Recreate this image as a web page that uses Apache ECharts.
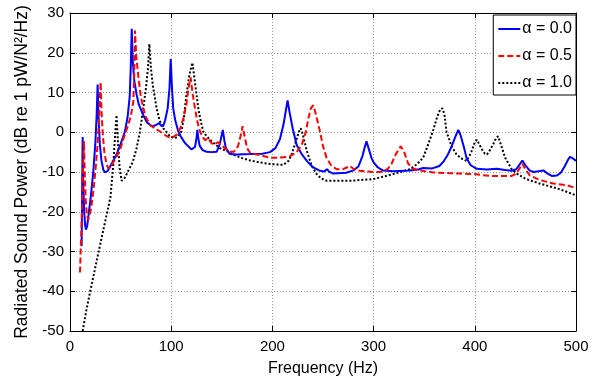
<!DOCTYPE html>
<html>
<head>
<meta charset="utf-8">
<script src="https://cdn.jsdelivr.net/npm/echarts@6/dist/echarts.min.js"></script>
<style>
html,body{margin:0;padding:0;background:#fff;}
#chart{width:601px;height:382px;}
</style>
</head>
<body>
<div id="chart"></div>
<script>
// Frequency (Hz), radiated sound power (dB) pairs per series
const alpha00 = [[11.5,-28.7],[12,-15],[12.5,-1.2],[13,-12],[14,-20],[15,-23.5],[15.8,-24.5],[17,-23.5],[18.5,-20.5],[20.5,-16.3],[23,-10],[25,-3],[26.3,4],[27.3,12],[28.3,3],[29.5,-3],[31,-7],[33,-9.5],[34.6,-10.1],[37,-9.8],[41,-8],[46,-5.6],[50,-3],[54.3,0.2],[57,4],[59,9],[60,16],[61,26],[62,18],[63.5,13],[65.8,9.5],[68,7],[72.4,4.3],[76,2.5],[80.7,1.5],[84,1.7],[88,2.3],[90,1.7],[92,1.5],[94,3],[96.5,6],[98.3,11],[99.5,18.4],[100.8,11],[102,6],[104,3],[107,0.2],[110,-1.3],[113.6,-2.7],[120,-4.3],[123.5,-3.7],[125,-1.5],[125.8,0.6],[126.8,-1.5],[128,-3.3],[131,-4.5],[135,-4.9],[140,-5],[145,-4.9],[148,-3],[151,0.6],[152.5,-2],[154,-4],[158,-5.5],[165,-5.6],[178,-5.5],[190,-5.4],[197.6,-5],[203,-4],[207.5,-1.7],[211,2],[213,5],[215,8],[217,5],[220,1],[224,-3.2],[229,-5.5],[234,-7.2],[240,-8.8],[247,-9.7],[251,-9.9],[254,-9.3],[256,-9.9],[260,-10.4],[273,-10.2],[280,-9.6],[285,-8.6],[289,-6],[291,-4],[293,-2.3],[295,-4],[298,-6.5],[300,-7.6],[304,-8.8],[309,-9.6],[320,-9.8],[336,-9.6],[345,-9.3],[349,-9],[358,-9.1],[365,-8.5],[369,-7.4],[373,-5.8],[377,-3.6],[381,-1],[383.7,0.6],[386,-0.8],[389,-3.5],[392,-6.6],[396,-8.3],[402,-9.2],[412,-9.4],[421.6,-9.2],[430,-9.5],[436.5,-9.7],[441,-9.3],[444,-8.2],[447,-7.1],[450,-8.3],[454,-9.6],[458,-10],[463,-9.8],[467.7,-9.6],[472,-10.4],[476,-11],[481,-10.9],[485,-10.2],[489,-8.5],[492,-7],[494,-6.2],[497,-6.6],[500,-7.2]];

const alpha05 = [[9.9,-35.3],[10.8,-28],[11.8,-20],[12.8,-10],[13.8,-2.2],[14.5,-10],[15.5,-17],[16.8,-21],[18.1,-22],[19.5,-21.5],[21,-19],[23,-15],[25,-10],[27,-4],[28.5,2],[29.5,8],[30.3,12.6],[31.2,5],[32.5,-1],[34,-5],[36,-8],[37.9,-9.1],[40,-8.8],[44,-7],[49.4,-4.5],[53,-1.5],[57.6,1.9],[60,4],[62.5,7.5],[63.5,15],[64.2,25.6],[65.5,19],[67.5,14.2],[70,9],[72.4,6],[75,3.8],[79,1.9],[84,0.9],[89,0.2],[94,-0.7],[98.8,-1.4],[102,-1.2],[105.4,-0.6],[109,1],[112,3.5],[115,7],[117,11],[119.2,13.8],[121,10],[123.5,6],[126,2.5],[128.5,0.2],[131,-1.2],[133.5,-2],[136.7,-1.5],[139,-2.5],[141.6,-3.1],[144,-2.8],[146.5,-2.5],[150,-3.3],[153,-4],[158,-4.9],[162,-4.9],[166,-3.5],[168.5,-1],[170.6,1.5],[172.5,-1],[175,-4],[178,-5.2],[188,-5.8],[197.6,-6.4],[207,-6.4],[217,-6.1],[224,-5],[229,-3.2],[233,0],[235.5,3.5],[238,6],[240.4,6.8],[243,4.5],[247,0.2],[250,-3.5],[253.6,-6.5],[258,-8.3],[263.5,-9.3],[270,-9.3],[274,-8.8],[276.7,-8.5],[280,-9.2],[286.6,-9.7],[300,-10],[309.6,-9.9],[314,-9.2],[318,-7.8],[322,-5.5],[326.8,-3.5],[330,-4.8],[334,-7.8],[338,-9],[342.6,-9.5],[359,-10.1],[375,-10.3],[398.7,-10.5],[415,-11],[436.5,-11],[441,-10.4],[444.5,-9],[447,-7.9],[450,-9.3],[454.5,-10.9],[464,-12],[477.6,-12.9],[490.8,-13.3],[500,-14.1]];

const alpha10 = [[12.5,-50],[16,-45],[20,-40],[25,-34],[30,-28],[36,-21],[40,-16.3],[42.8,-8],[44.5,-1],[46,4.3],[47.5,-3],[49,-9],[51,-12.2],[54,-11.5],[58,-9.5],[62,-7.5],[65.8,-4],[69,0],[72.4,6],[75,11],[77,16],[78.4,22.2],[80,16],[82,11.5],[85.6,6],[88.5,3],[92.2,1],[98.8,-1],[103.7,-1.5],[107,-1],[110,0.2],[112.5,3.5],[115,9.3],[118,14.5],[121,17.5],[123.5,12.5],[126.8,6],[129,3],[131.7,0.2],[135,-1],[140,-2.3],[148,-4],[158,-5.1],[161,-5.6],[170,-6.5],[178,-7.1],[188,-7.6],[197.6,-8],[210.8,-8.2],[216,-7.2],[219,-5.5],[223,-2.5],[226,0],[228,1],[230,-0.5],[234,-4.7],[239,-8.5],[243.7,-10.5],[248,-11.6],[253.6,-12.2],[276.7,-12.2],[299.7,-11.8],[319.5,-10.5],[336,-9.3],[343,-8],[349,-6.4],[354,-3],[359,0.6],[363,4],[366,5.8],[368,6],[370,4.5],[372,0.2],[377,-3.5],[382,-5.6],[388,-6.8],[392,-7.2],[395,-5.8],[397,-4.7],[400,-2.5],[402,-1.9],[404,-2.8],[407,-4.3],[410,-5.4],[412,-5.6],[415,-4.5],[418,-3.1],[421,-1.5],[423,-1],[425,-2.5],[430,-6.4],[436.5,-9.3],[442,-10.5],[451,-11.8],[464,-12.9],[481,-14.1],[490,-14.9],[499,-15.8]];

const seriesNames = ['α = 0.0', 'α = 0.5', 'α = 1.0'];
const xTitle = 'Frequency (Hz)';
const yTitle = 'Radiated Sound Power (dB re 1 pW/N²/Hz)';
const xMin = 0, xMax = 500, xStep = 100;
const yMin = -50, yMax = 30, yStep = 10;

const FONT = "'Liberation Sans', Arial, sans-serif";
const chart = echarts.init(document.getElementById('chart'), null, {renderer: 'canvas'});

const gridLine = {show: true, lineStyle: {color: '#9a9a9a', type: [1, 2], width: 1}};
const frameTicks = {show: true, inside: true, length: 5, lineStyle: {color: '#000', width: 1}};
const frameLine = {show: true, onZero: false, lineStyle: {color: '#000', width: 1}};

chart.setOption({
  animation: false,
  backgroundColor: '#fff',
  grid: {left: 70, right: 25, top: 13, bottom: 47, containLabel: false},
  legend: {
    right: 25, top: 15,
    orient: 'vertical',
    backgroundColor: '#fff',
    borderColor: '#000', borderWidth: 1, borderRadius: 0,
    padding: [6, 4, 4, 4],
    itemWidth: 22, itemHeight: 14, itemGap: 11,
    itemStyle: {opacity: 0, borderWidth: 0},
    textStyle: {fontFamily: FONT, fontSize: 16, color: '#000', padding: [0, 0, 0, -3]},
    data: seriesNames.map(n => ({name: n}))
  },
  xAxis: [{
    type: 'value', min: xMin, max: xMax, interval: xStep,
    position: 'bottom',
    name: xTitle, nameLocation: 'middle', nameGap: 30,
    nameTextStyle: {fontFamily: FONT, fontSize: 16, color: '#000'},
    axisLine: frameLine,
    axisTick: frameTicks,
    axisLabel: {fontFamily: FONT, fontSize: 15, color: '#000', margin: 8},
    splitLine: gridLine
  }, {
    type: 'value', min: xMin, max: xMax, interval: xStep,
    position: 'top',
    axisLine: frameLine,
    axisTick: frameTicks, axisLabel: {show: false}, splitLine: {show: false}
  }],
  yAxis: [{
    type: 'value', min: yMin, max: yMax, interval: yStep,
    position: 'left',
    name: yTitle, nameLocation: 'middle', nameGap: 37, nameRotate: 90,
    nameTextStyle: {fontFamily: FONT, fontSize: 17.5, color: '#000'},
    axisLine: frameLine,
    axisTick: frameTicks,
    axisLabel: {fontFamily: FONT, fontSize: 15, color: '#000', margin: 6},
    splitLine: gridLine
  }, {
    type: 'value', min: yMin, max: yMax, interval: yStep,
    position: 'right',
    axisLine: frameLine,
    axisTick: frameTicks, axisLabel: {show: false}, splitLine: {show: false}
  }],
  series: [
    {name: seriesNames[0], type: 'line', data: alpha00, showSymbol: false, symbol: 'none',
     lineStyle: {color: '#0000ff', width: 2}, itemStyle: {color: '#0000ff'}, z: 3},
    {name: seriesNames[1], type: 'line', data: alpha05, showSymbol: false, symbol: 'none',
     lineStyle: {color: '#ff0000', width: 2, type: [6, 3]}, itemStyle: {color: '#ff0000'}, z: 4},
    {name: seriesNames[2], type: 'line', data: alpha10, showSymbol: false, symbol: 'none',
     lineStyle: {color: '#000000', width: 2, type: [2, 2]}, itemStyle: {color: '#000000'}, z: 2}
  ]
});
</script>
</body>
</html>
